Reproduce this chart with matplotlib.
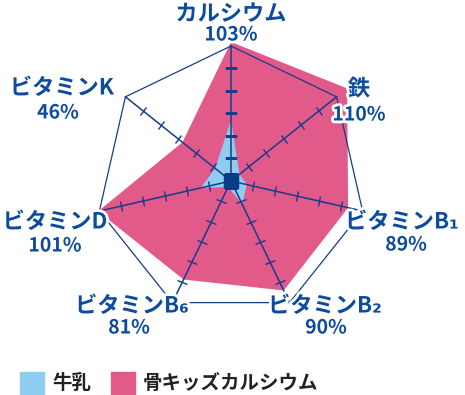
import numpy as np
import matplotlib
matplotlib.use("Agg")
import matplotlib.pyplot as plt
import matplotlib.patheffects as pe
from matplotlib.markers import MarkerStyle
from matplotlib.transforms import Affine2D

plt.rcParams['font.family'] = ['Noto Sans CJK JP', 'DejaVu Sans']

# ---- data ----
nutrients = ["カルシウム", "鉄", "ビタミンB₁", "ビタミンB₂", "ビタミンB₆", "ビタミンD", "ビタミンK"]
kids_pct = [103, 110, 89, 90, 81, 101, 46]      # 骨キッズカルシウム
milk_pct = [45, 8, 12, 19, 5, 23, 15]           # 牛乳
series_names = ["牛乳", "骨キッズカルシウム"]

# label anchor points (pixels, name / percent)
name_xy = [(231, 14), (359, 89), (402, 222), (325, 306), (132, 306), (55, 222), (62, 88)]
pct_xy = [(231, 35), (359, 115), (406, 245), (326, 328), (129, 328), (55, 246), (58, 113)]

NAVY = "#163c8a"
TEXT = "#0c4b9e"
PINK = "#e25a8a"
SKY = "#8ecdf0"

W, H = 465, 395
fig = plt.figure(figsize=(W / 100, H / 100), dpi=100)
# polar axes centred on (231,181) px, 100% = 135 px, rmax = 1.2
rpx = 135 * 1.2
ax = fig.add_axes([(231 - rpx) / W, (H - 181 - rpx) / H, 2 * rpx / W, 2 * rpx / H],
                  projection="polar")
ax.set_theta_offset(np.pi / 2)
ax.set_theta_direction(-1)
ax.set_ylim(0, 1.2)
ax.set_axis_off()

n = len(nutrients)
theta = np.arange(n) * 2 * np.pi / n
tc = np.append(theta, theta[0])

kids = np.array(kids_pct) / 100
milk = np.array(milk_pct) / 100
ax.fill(tc, np.append(kids, kids[0]), color=PINK, lw=0, zorder=1)
ax.fill(tc, np.append(milk, milk[0]), color=SKY, lw=0, zorder=2)

# outer frame and spokes
ax.plot(tc, np.ones(n + 1), color=NAVY, lw=0.9, zorder=3)
tick_r = np.arange(1, 6) / 6
for t in theta:
    ax.plot([t, t], [0, 1], color=NAVY, lw=1.1, zorder=4)
    mk = MarkerStyle("_", transform=Affine2D().rotate_deg(-np.degrees(t)))
    ax.plot(np.full(len(tick_r), t), tick_r, ls="none", marker=mk, ms=8,
            mew=1.0, color=NAVY, zorder=4)
ax.plot([0], [0], marker="s", ms=9.5, color="#0b3a86", zorder=5)

halo = [pe.withStroke(linewidth=4, foreground="white")]
for name, v, (nx, ny), (px, py) in zip(nutrients, kids_pct, name_xy, pct_xy):
    fig.text(nx / W, 1 - ny / H, name, ha="center", va="center", fontsize=16,
             fontweight="bold", color=TEXT, path_effects=halo, zorder=10)
    fig.text(px / W, 1 - py / H, f"{v}%", ha="center", va="center", fontsize=14,
             fontweight="bold", color=TEXT, path_effects=halo, zorder=10)

# legend
for (x0, col), label in zip([(20, SKY), (111, PINK)], series_names):
    fig.patches.append(plt.Rectangle((x0 / W, 1 - 394 / H), 24 / W, 22 / H,
                                     transform=fig.transFigure, color=col))
    fig.text((x0 + 32) / W, 1 - 383 / H, label, ha="left", va="center",
             fontsize=14, fontweight="bold", color="#222222")

fig.savefig("out.png", dpi=100)
